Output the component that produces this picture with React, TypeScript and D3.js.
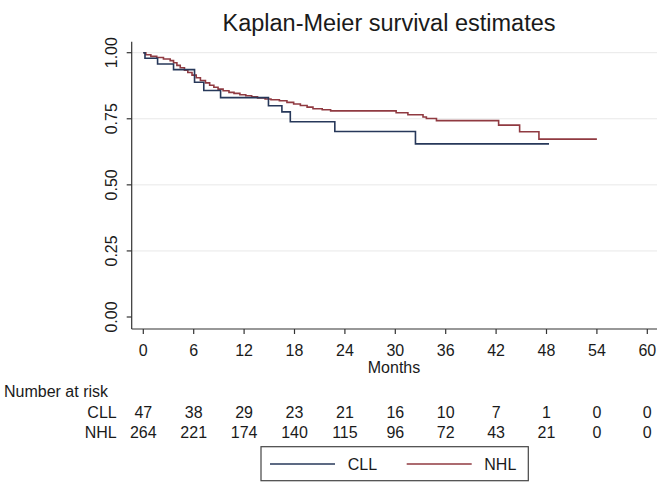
import React from "react";
import * as d3 from "d3";

const title = "Kaplan-Meier survival estimates";
const xTicks = [0, 6, 12, 18, 24, 30, 36, 42, 48, 54, 60];
const yTicks = [0, 0.25, 0.5, 0.75, 1.0];
const yTickLabels = ["0.00", "0.25", "0.50", "0.75", "1.00"];
const groups = ["CLL", "NHL"];

const cllTimes = [0, 0.2, 1.7, 3.6, 6.1, 7.2, 9.2, 14.9, 16.5, 17.5, 22.8, 32.4, 48.3];
const cllSurv = [1, 0.979, 0.957, 0.936, 0.888, 0.857, 0.83, 0.799, 0.776, 0.739, 0.702, 0.655, 0.655];

const nhlTimes = [0, 0.3, 0.9, 1.6, 2.4, 3.2, 3.6, 4.0, 4.4, 4.9, 5.3, 5.8, 6.3, 6.8, 7.4, 7.9, 8.4, 8.9, 9.5, 10.2, 10.8, 11.5, 12.2, 12.9, 13.6, 14.5, 15.2, 16.2, 17.1, 17.9, 18.7, 19.5, 20.2, 21.3, 22.3, 30.1, 31.5, 33.3, 33.7, 34.9, 42.3, 44.8, 47.1, 54.0];
const nhlSurv = [1, 0.992, 0.986, 0.982, 0.976, 0.97, 0.962, 0.952, 0.943, 0.934, 0.925, 0.915, 0.905, 0.895, 0.886, 0.877, 0.869, 0.862, 0.856, 0.85, 0.846, 0.841, 0.837, 0.833, 0.829, 0.825, 0.822, 0.818, 0.812, 0.806, 0.8, 0.794, 0.788, 0.784, 0.78, 0.773, 0.765, 0.757, 0.751, 0.743, 0.726, 0.701, 0.673, 0.673];

const cllRisk = [47, 38, 29, 23, 21, 16, 10, 7, 1, 0, 0];
const nhlRisk = [264, 221, 174, 140, 115, 96, 72, 43, 21, 0, 0];

const colors = { CLL: "#27385a", NHL: "#903a41" };
const font = "'Liberation Sans', Arial, Helvetica, sans-serif";

export default function App() {
  const W = 669, H = 491;
  const plotLeft = 131.7, plotRight = 657, plotTop = 41.7, plotBottom = 329;
  const x = d3.scaleLinear().domain([0, 60]).range([143.3, 647.3]);
  const y = d3.scaleLinear().domain([0, 1]).range([317, 52.7]);

  const line = d3
    .line<[number, number]>()
    .x((d) => x(d[0]))
    .y((d) => y(d[1]))
    .curve(d3.curveStepAfter);

  const cllPts: [number, number][] = cllTimes.map((t, i) => [t, cllSurv[i]]);
  const nhlPts: [number, number][] = nhlTimes.map((t, i) => [t, nhlSurv[i]]);

  const risks = [cllRisk, nhlRisk];
  const rowBase = [417.5, 437.5];

  return (
    <svg
      width={W}
      height={H}
      style={{ position: "absolute", left: 0, top: 0, background: "#fff" }}
      fontFamily={font}
    >
      <rect x={0} y={0} width={W} height={H} fill="#fff" />
      <text x={389} y={31} fontSize={23.5} textAnchor="middle" fill="#1a1a1a">
        {title}
      </text>

      {/* gridlines */}
      {yTicks
        .filter((t) => t > 0)
        .map((t) => (
          <line key={"g" + t} x1={plotLeft} x2={plotRight} y1={y(t)} y2={y(t)} stroke="#e8e8e8" strokeWidth={1} />
        ))}

      {/* curves */}
      <path d={line(nhlPts) || ""} fill="none" stroke={colors.NHL} strokeWidth={1.6} />
      <path d={line(cllPts) || ""} fill="none" stroke={colors.CLL} strokeWidth={1.6} />

      {/* axes */}
      <line x1={plotLeft} x2={plotLeft} y1={plotTop} y2={plotBottom} stroke="#333" strokeWidth={1.2} />
      <line x1={plotLeft} x2={plotRight} y1={plotBottom} y2={plotBottom} stroke="#333" strokeWidth={1.2} />

      {yTicks.map((t, i) => (
        <g key={"y" + t}>
          <line x1={plotLeft - 5} x2={plotLeft} y1={y(t)} y2={y(t)} stroke="#333" strokeWidth={1.2} />
          <text
            transform={`translate(${117},${y(t)}) rotate(-90)`}
            fontSize={16}
            textAnchor="middle"
            fill="#1a1a1a"
          >
            {yTickLabels[i]}
          </text>
        </g>
      ))}

      {xTicks.map((t) => (
        <g key={"x" + t}>
          <line x1={x(t)} x2={x(t)} y1={plotBottom} y2={plotBottom + 5} stroke="#333" strokeWidth={1.2} />
          <text x={x(t)} y={356} fontSize={16} textAnchor="middle" fill="#1a1a1a">
            {t}
          </text>
        </g>
      ))}
      <text x={394} y={372.7} fontSize={16} textAnchor="middle" fill="#1a1a1a">
        Months
      </text>

      {/* number at risk */}
      <text x={4} y={396.7} fontSize={16} fill="#1a1a1a">
        Number at risk
      </text>
      {groups.map((g, gi) => (
        <g key={"r" + g}>
          <text x={116.7} y={rowBase[gi]} fontSize={16} textAnchor="end" fill="#1a1a1a">
            {g}
          </text>
          {xTicks.map((t, i) => (
            <text key={t} x={x(t)} y={rowBase[gi]} fontSize={16} textAnchor="middle" fill="#1a1a1a">
              {risks[gi][i]}
            </text>
          ))}
        </g>
      ))}

      {/* legend */}
      <rect x={261} y={446.7} width={267.3} height={34} fill="#fff" stroke="#444" strokeWidth={1.2} />
      <line x1={270} x2={335} y1={464} y2={464} stroke={colors.CLL} strokeWidth={1.6} />
      <text x={347.7} y={470} fontSize={16} fill="#1a1a1a">
        CLL
      </text>
      <line x1={406.7} x2={471.7} y1={464} y2={464} stroke={colors.NHL} strokeWidth={1.6} />
      <text x={484.3} y={470} fontSize={16} fill="#1a1a1a">
        NHL
      </text>
    </svg>
  );
}
